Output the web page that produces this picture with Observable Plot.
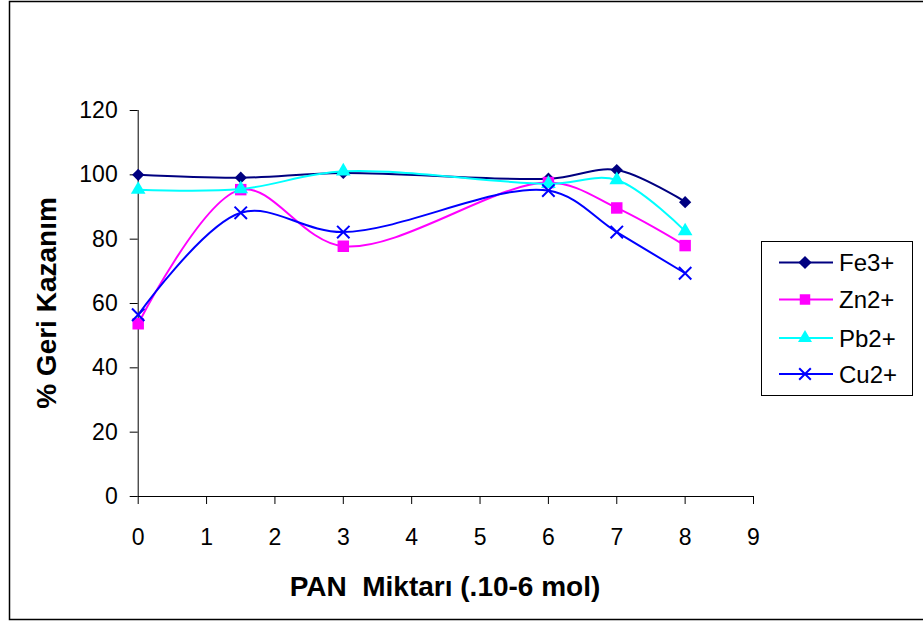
<!DOCTYPE html>
<html>
<head>
<meta charset="utf-8">
<script src="https://cdn.jsdelivr.net/npm/d3@7"></script>
<script src="https://cdn.jsdelivr.net/npm/@observablehq/plot@0.6"></script>
<style>
  html, body { margin: 0; padding: 0; background: #fff; }
  #chart { position: relative; width: 923px; height: 621px; }
  svg { font-family: "Liberation Sans", Arial, sans-serif; }
</style>
</head>
<body>
<div id="chart"></div>
<script>
const xValues = [0, 1.5, 3, 6, 7, 8];
const feValues = [100, 99.1, 100.6, 98.8, 101.5, 91.5];
const znValues = [53.7, 95.4, 77.8, 97.6, 89.7, 78];
const pbValues = [95.4, 95.6, 101.1, 97.2, 98.4, 82.5];
const cuValues = [56.5, 88.2, 82.2, 95.1, 82.2, 69.4];
const seriesNames = ["Fe3+", "Zn2+", "Pb2+", "Cu2+"];
const seriesColors = ["#000080", "#FF00FF", "#00FFFF", "#0000FF"];
const seriesSymbols = ["diamond2", "square2", "triangle2", "times"];
const xTicks = [0, 1, 2, 3, 4, 5, 6, 7, 8, 9];
const yTicks = [0, 20, 40, 60, 80, 100, 120];
const xTitle = "PAN  Miktarı (.10-6 mol)";
const yTitle = "% Geri Kazanım";

const allValues = [feValues, znValues, pbValues, cuValues];
const rows = [];
allValues.forEach((vals, si) => {
  vals.forEach((v, i) => rows.push({series: seriesNames[si], x: xValues[i], y: v}));
});

const W = 923, H = 621;
const mL = 137.7, mR = W - 753, mT = 110, mB = H - 496;

const marks = [
  Plot.ruleX([0], {stroke: "#000", strokeWidth: 1}),
  Plot.ruleY([0], {stroke: "#000", strokeWidth: 1}),
  Plot.axisY({ticks: yTicks, tickSize: 8, tickPadding: 12.5, fontSize: 23, tickFormat: d => d, label: null}),
  Plot.axisX({ticks: xTicks, tickSize: 8, tickPadding: 24, fontSize: 23, tickFormat: d => d, label: null})
];
const symR = {diamond2: 5.5, square2: 7.3, triangle2: 7, times: 5.7};
seriesNames.forEach((name, si) => {
  const data = rows.filter(r => r.series === name);
  marks.push(Plot.line(data, {x: "x", y: "y", stroke: seriesColors[si], strokeWidth: 2, curve: "catmull-rom"}));
  const sym = seriesSymbols[si];
  if (sym === "times") {
    marks.push(Plot.dot(data, {x: "x", y: "y", symbol: "times", r: symR[sym], stroke: seriesColors[si], strokeWidth: 2}));
  } else {
    marks.push(Plot.dot(data, {x: "x", y: "y", symbol: sym, r: symR[sym], fill: seriesColors[si], stroke: "none"}));
  }
});

const plot = Plot.plot({
  width: W, height: H,
  marginLeft: mL, marginRight: mR, marginTop: mT, marginBottom: mB,
  x: {domain: [0, 9]},
  y: {domain: [0, 120]},
  style: {fontFamily: "'Liberation Sans', Arial, sans-serif", color: "#000", background: "#fff", overflow: "visible"},
  marks
});
document.getElementById("chart").appendChild(plot);

const svg = d3.select(plot);
svg.selectAll('g[aria-label="y-axis tick label"] text, g[aria-label="x-axis tick label"] text').attr("font-size", 23);
svg.selectAll('g[aria-label="y-axis tick label"], g[aria-label="x-axis tick label"]').attr("font-size", 23);

// outer border
svg.append("path").attr("d", `M923,1.5 H9.5 V619.5 H923`).attr("fill", "none").attr("stroke", "#000").attr("stroke-width", 1.5);

// axis titles
svg.append("text").attr("x", 445).attr("y", 596).attr("text-anchor", "middle")
  .attr("font-size", 28).attr("font-weight", "bold").attr("fill", "#000").text(xTitle);
svg.append("text").attr("transform", "translate(56,303) rotate(-90)").attr("text-anchor", "middle")
  .attr("font-size", 28).attr("font-weight", "bold").attr("fill", "#000").text(yTitle);

// legend
const lg = svg.append("g");
lg.append("rect").attr("x", 761.5).attr("y", 241.5).attr("width", 151).attr("height", 154)
  .attr("fill", "#fff").attr("stroke", "#000").attr("stroke-width", 1);
const rowY = [262.5, 299.5, 338, 374];
const symGen = {
  "diamond2": d3.symbol(d3.symbolDiamond2, 110),
  "square2": d3.symbol(d3.symbolSquare2, 140),
  "triangle2": d3.symbol(d3.symbolTriangle2, 140)
};
seriesNames.forEach((name, i) => {
  const y = rowY[i];
  lg.append("line").attr("x1", 779).attr("x2", 833).attr("y1", y).attr("y2", y)
    .attr("stroke", seriesColors[i]).attr("stroke-width", 2);
  const sym = seriesSymbols[i];
  if (sym === "times") {
    lg.append("path").attr("transform", `translate(805,${y})`).attr("d", d3.symbol(d3.symbolTimes, 90)())
      .attr("fill", "none").attr("stroke", seriesColors[i]).attr("stroke-width", 2);
  } else {
    lg.append("path").attr("transform", `translate(805,${y})`).attr("d", symGen[sym]()).attr("fill", seriesColors[i]);
  }
  lg.append("text").attr("x", 839).attr("y", y + 8.5).attr("text-anchor", "start").attr("font-size", 24)
    .attr("fill", "#000").text(name);
});
</script>
</body>
</html>
